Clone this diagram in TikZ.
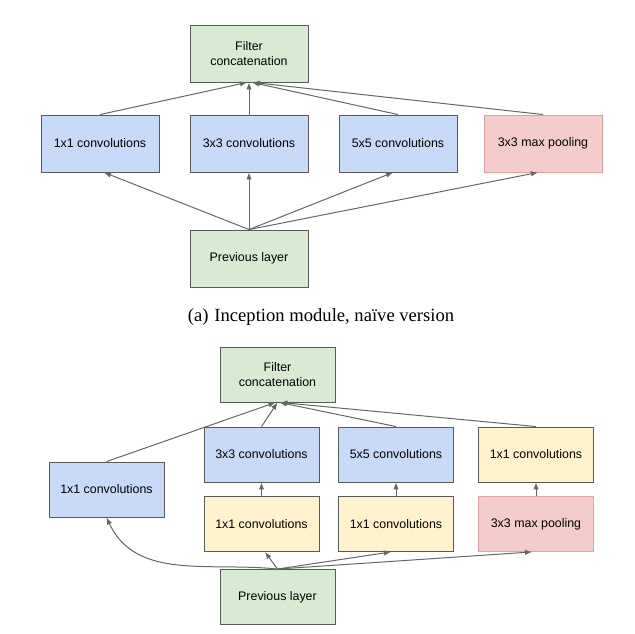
\documentclass[tikz,border=0pt]{standalone}
\usepackage{fontspec}
\setmainfont{Liberation Serif}
\setsansfont{Liberation Sans}
\usetikzlibrary{arrows.meta,positioning}
\definecolor{concatgreen}{HTML}{D9EAD3}
\definecolor{convblue}{HTML}{C9DAF8}
\definecolor{poolpink}{HTML}{F4CCCC}
\definecolor{reduceyellow}{HTML}{FFF2CC}
\definecolor{boxline}{HTML}{595959}
\definecolor{poolline}{HTML}{E3A0A0}
\definecolor{arrowgray}{HTML}{666666}

\begin{document}
\begin{tikzpicture}[x=1pt, y=-1pt,
    layer/.style={rectangle, draw=boxline, line width=0.9pt, inner sep=0pt,
                  minimum width=118pt, minimum height=57pt, align=center,
                  font=\sffamily\fontsize{12.4}{15}\selectfont},
    green/.style={layer, fill=concatgreen},
    conv/.style={layer, fill=convblue},
    reduce/.style={layer, fill=reduceyellow},
    pool/.style={layer, fill=poolpink, draw=poolline},
    small/.style={minimum width=115pt, minimum height=55pt},
    arrow/.style={-{Latex[length=7pt,width=5.5pt]}, line width=1pt, draw=arrowgray},
    caption/.style={font=\fontsize{18.6}{22}\selectfont}
]
    \useasboundingbox (0,0) rectangle (635,634);

    % (a) naive version
    \node[green] (cat) at (249, 53.5) {Filter\\concatenation};
    \node[conv] (c1) at (100, 143.5) {1x1 convolutions};
    \node[conv] (c3) at (249, 143.5) {3x3 convolutions};
    \node[conv] (c5) at (398, 143.5) {5x5 convolutions};
    \node[pool] (mp) at (543, 143.5) {3x3 max pooling};
    \node[green] (prev) at (249, 258.5) {Previous layer};

    \node[caption] (capa) at (321, 317) {(a)\hspace{6pt}Inception module, naïve version};

    % outputs into the concatenation
    \draw[arrow] (c1.north) -- ([xshift=-2pt]cat.south);
    \draw[arrow] (c3.north) -- (cat.south);
    \draw[arrow] (c5.north) -- ([xshift=3pt]cat.south);
    \draw[arrow] (mp.north) -- ([xshift=4pt]cat.south);

    % inputs from the previous layer
    \draw[arrow] (prev.north) -- ([xshift=4pt]c1.south);
    \draw[arrow] (prev.north) -- (c3.south);
    \draw[arrow] (prev.north) -- ([xshift=-5pt]c5.south);
    \draw[arrow] (prev.north) -- ([xshift=-5pt]mp.south);

    % (b) with dimension reductions
    \node[green, small] (catb) at (277.5, 374.5) {Filter\\concatenation};
    \node[conv, small] (b1) at (106.5, 489.5) {1x1 convolutions};
    \node[conv, small] (b3) at (261.5, 454.5) {3x3 convolutions};
    \node[conv, small] (b5) at (396, 454.5) {5x5 convolutions};
    \node[reduce, small] (bp) at (536, 454.5) {1x1 convolutions};
    \node[reduce, small] (r3) at (261.5, 524) {1x1 convolutions};
    \node[reduce, small] (r5) at (396, 524) {1x1 convolutions};
    \node[pool, small] (mpb) at (536, 524) {3x3 max pooling};
    \node[green, small] (prevb) at (277.5, 597) {Previous layer};

    % outputs into the concatenation
    \draw[arrow] (b1.north) -- ([xshift=-2pt]catb.south);
    \draw[arrow] (b3.north) -- (catb.south);
    \draw[arrow] (b5.north) -- ([xshift=2pt]catb.south);
    \draw[arrow] (bp.north) -- ([xshift=3pt]catb.south);

    % reductions feeding the wide filters
    \draw[arrow] (r3.north) -- (b3.south);
    \draw[arrow] (r5.north) -- (b5.south);
    \draw[arrow] (mpb.north) -- (bp.south);

    % inputs from the previous layer
    \draw[arrow] (prevb.north) to[out=174, in=-65] (b1.south);
    \draw[arrow] (prevb.north) -- ([xshift=3.5pt]r3.south);
    \draw[arrow] (prevb.north) -- ([xshift=-5pt]r5.south);
    \draw[arrow] (prevb.north) -- ([xshift=-4pt]mpb.south);

\end{tikzpicture}
\end{document}
